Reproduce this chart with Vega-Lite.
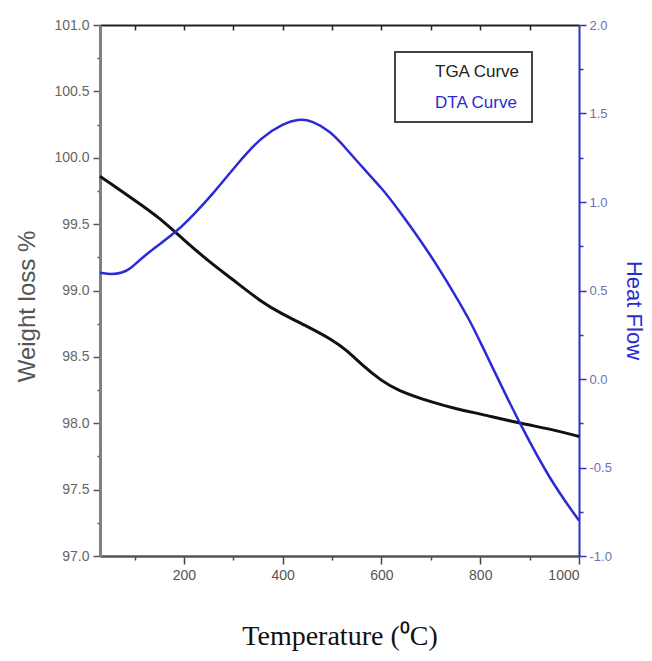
{
  "$schema": "https://vega.github.io/schema/vega-lite/v6.json",
  "width": 479,
  "height": 531,
  "autosize": {"type": "none"},
  "padding": {"left": 100, "top": 25, "right": 73, "bottom": 105},
  "background": "white",
  "config": {"view": {"stroke": null}, "font": "Liberation Sans"},
  "data": {
    "values": [
      {"series": "TGA Curve", "T": 30, "v": 99.86},
      {"series": "TGA Curve", "T": 50, "v": 99.81},
      {"series": "TGA Curve", "T": 100, "v": 99.68},
      {"series": "TGA Curve", "T": 150, "v": 99.55},
      {"series": "TGA Curve", "T": 200, "v": 99.38},
      {"series": "TGA Curve", "T": 250, "v": 99.22},
      {"series": "TGA Curve", "T": 300, "v": 99.08},
      {"series": "TGA Curve", "T": 358, "v": 98.91},
      {"series": "TGA Curve", "T": 400, "v": 98.82},
      {"series": "TGA Curve", "T": 450, "v": 98.73},
      {"series": "TGA Curve", "T": 500, "v": 98.63},
      {"series": "TGA Curve", "T": 530, "v": 98.55},
      {"series": "TGA Curve", "T": 563, "v": 98.43},
      {"series": "TGA Curve", "T": 600, "v": 98.32},
      {"series": "TGA Curve", "T": 631, "v": 98.25},
      {"series": "TGA Curve", "T": 700, "v": 98.16},
      {"series": "TGA Curve", "T": 750, "v": 98.11},
      {"series": "TGA Curve", "T": 800, "v": 98.07},
      {"series": "TGA Curve", "T": 880, "v": 98.0},
      {"series": "TGA Curve", "T": 950, "v": 97.95},
      {"series": "TGA Curve", "T": 1000, "v": 97.9},
      {"series": "DTA Curve", "T": 30, "v": 0.6},
      {"series": "DTA Curve", "T": 54, "v": 0.59},
      {"series": "DTA Curve", "T": 75, "v": 0.6},
      {"series": "DTA Curve", "T": 91, "v": 0.62},
      {"series": "DTA Curve", "T": 121, "v": 0.7},
      {"series": "DTA Curve", "T": 150, "v": 0.76},
      {"series": "DTA Curve", "T": 188, "v": 0.84},
      {"series": "DTA Curve", "T": 220, "v": 0.93},
      {"series": "DTA Curve", "T": 257, "v": 1.04},
      {"series": "DTA Curve", "T": 309, "v": 1.22},
      {"series": "DTA Curve", "T": 358, "v": 1.37},
      {"series": "DTA Curve", "T": 399, "v": 1.44},
      {"series": "DTA Curve", "T": 431, "v": 1.47},
      {"series": "DTA Curve", "T": 460, "v": 1.46},
      {"series": "DTA Curve", "T": 496, "v": 1.4},
      {"series": "DTA Curve", "T": 526, "v": 1.31},
      {"series": "DTA Curve", "T": 560, "v": 1.2},
      {"series": "DTA Curve", "T": 600, "v": 1.08},
      {"series": "DTA Curve", "T": 631, "v": 0.97},
      {"series": "DTA Curve", "T": 698, "v": 0.71},
      {"series": "DTA Curve", "T": 750, "v": 0.47},
      {"series": "DTA Curve", "T": 779, "v": 0.33},
      {"series": "DTA Curve", "T": 800, "v": 0.21},
      {"series": "DTA Curve", "T": 850, "v": -0.08},
      {"series": "DTA Curve", "T": 880, "v": -0.25},
      {"series": "DTA Curve", "T": 941, "v": -0.57},
      {"series": "DTA Curve", "T": 1000, "v": -0.8}
    ]
  },
  "layer": [
    {
      "transform": [{"filter": "datum.series === 'TGA Curve'"}],
      "mark": {"type": "line", "strokeWidth": 3, "interpolate": "basis"},
      "encoding": {
        "x": {
          "field": "T", "type": "quantitative",
          "scale": {"domain": [30, 1000], "nice": false, "zero": false},
          "axis": {
            "orient": "bottom",
            "title": "Temperature (⁰C)",
            "titleFont": "Liberation Serif",
            "titleFontSize": 28,
            "titleFontWeight": "normal",
            "titleColor": "#111111",
            "titlePadding": 40,
            "values": [100, 200, 300, 400, 500, 600, 700, 800, 900, 1000],
            "labelExpr": "datum.value % 200 === 0 ? format(datum.value, 'd') : ''",
            "labelOverlap": false,
            "labelFontSize": 14,
            "labelColor": "#555555",
            "labelPadding": 4,
            "grid": false,
            "domainColor": "#555555",
            "domainWidth": 2.5,
            "tickColor": "#444444",
            "tickWidth": 1.5,
            "tickSize": {"condition": {"test": "datum.value % 200 === 0", "value": 8}, "value": 4}
          }
        },
        "y": {
          "field": "v", "type": "quantitative",
          "scale": {"domain": [97, 101], "nice": false, "zero": false},
          "axis": {
            "orient": "left",
            "title": "Weight loss %",
            "titleFontSize": 24,
            "titleFontWeight": "normal",
            "titleColor": "#555555",
            "titlePadding": 14,
            "titleY": 281,
            "values": [97, 97.25, 97.5, 97.75, 98, 98.25, 98.5, 98.75, 99, 99.25, 99.5, 99.75, 100, 100.25, 100.5, 100.75, 101],
            "labelExpr": "(datum.value * 2) % 1 === 0 ? format(datum.value, '.1f') : ''",
            "labelOverlap": false,
            "labelFontSize": 14,
            "labelColor": "#666666",
            "labelPadding": 4,
            "grid": false,
            "domainColor": "#808080",
            "domainWidth": 3,
            "tickColor": "#555555",
            "tickWidth": 1.5,
            "tickSize": {"condition": {"test": "(datum.value * 2) % 1 === 0", "value": 7}, "value": 3}
          }
        },
        "color": {
          "field": "series", "type": "nominal",
          "scale": {"domain": ["TGA Curve", "DTA Curve"], "range": ["#111111", "#2b2bd6"]},
          "legend": {
            "orient": "none",
            "legendX": 295,
            "legendY": 27,
            "title": null,
            "fillColor": "white",
            "strokeColor": "#444444",
            "padding": 11,
            "symbolSize": 0,
            "symbolStrokeWidth": 0,
            "symbolOpacity": 0,
            "labelOffset": 12,
            "labelFontSize": 17,
            "rowPadding": 13,
            "encode": {
              "labels": {"update": {"fill": {"signal": "datum.value === 'DTA Curve' ? '#2b2bd6' : '#222222'"}}},
              "legend": {"update": {"strokeWidth": {"value": 2}}}
            }
          }
        }
      }
    },
    {
      "transform": [{"filter": "datum.series === 'DTA Curve'"}],
      "mark": {"type": "line", "strokeWidth": 2.5, "interpolate": "basis"},
      "encoding": {
        "x": {
          "field": "T", "type": "quantitative",
          "scale": {"domain": [30, 1000], "nice": false, "zero": false},
          "axis": {
            "orient": "top",
            "title": null,
            "labels": false,
            "values": [100, 200, 300, 400, 500, 600, 700, 800, 900],
            "grid": false,
            "domainColor": "#222222",
            "domainWidth": 2,
            "tickColor": "#222222",
            "tickWidth": 1.5,
            "tickSize": -5
          }
        },
        "y": {
          "field": "v", "type": "quantitative",
          "scale": {"domain": [-1, 2], "nice": false, "zero": false},
          "axis": {
            "orient": "right",
            "title": "Heat Flow",
            "titleFontSize": 22,
            "titleFontWeight": "normal",
            "titleColor": "#2b2bd6",
            "titlePadding": 10,
            "titleY": 285,
            "values": [-1, -0.75, -0.5, -0.25, 0, 0.25, 0.5, 0.75, 1, 1.25, 1.5, 1.75, 2],
            "labelExpr": "(datum.value * 2) % 1 === 0 ? replace(format(datum.value, '.1f'), '−', '-') : ''",
            "labelOverlap": false,
            "labelFontSize": 13,
            "labelColor": "#7070b0",
            "labelPadding": 3,
            "grid": false,
            "domainColor": "#3030c0",
            "domainWidth": 2,
            "tickColor": "#3030c0",
            "tickWidth": 1.5,
            "tickSize": {"condition": {"test": "(datum.value * 2) % 1 === 0", "value": 7}, "value": 4}
          }
        },
        "color": {"field": "series", "type": "nominal"}
      }
    }
  ],
  "resolve": {"scale": {"y": "independent"}, "axis": {"x": "independent"}}
}
